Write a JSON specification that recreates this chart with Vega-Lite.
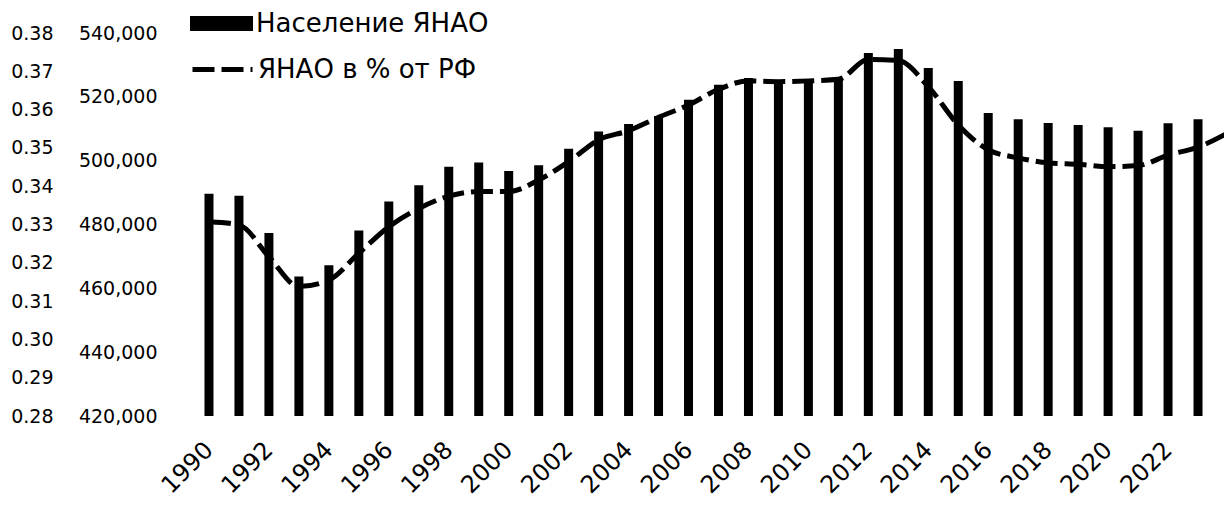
{
  "$schema": "https://vega.github.io/schema/vega-lite/v6.json",
  "autosize": {"type": "none"},
  "padding": {"left": 189, "top": 33, "right": 0, "bottom": 90},
  "width": 1035,
  "height": 383,
  "background": "white",
  "config": {
    "view": {"stroke": null},
    "font": "DejaVu Sans",
    "axis": {"grid": false, "domain": false, "ticks": false, "tickSize": 0, "labelColor": "#000", "labelFont": "DejaVu Sans", "title": null},
    "legend": {"labelFont": "DejaVu Sans", "labelColor": "#000", "labelFontSize": 26, "padding": 0, "offset": 0, "labelLimit": 400}
  },
  "data": {
    "values": [
      {"year": 1990, "pop": 489600, "pct": 0.3307},
      {"year": 1991, "pop": 489000, "pct": 0.3299},
      {"year": 1992, "pop": 477300, "pct": 0.3216},
      {"year": 1993, "pop": 463700, "pct": 0.3138},
      {"year": 1994, "pop": 467200, "pct": 0.3155},
      {"year": 1995, "pop": 478100, "pct": 0.3225},
      {"year": 1996, "pop": 487200, "pct": 0.3294},
      {"year": 1997, "pop": 492300, "pct": 0.3342},
      {"year": 1998, "pop": 498100, "pct": 0.3374},
      {"year": 1999, "pop": 499400, "pct": 0.3386},
      {"year": 2000, "pop": 496800, "pct": 0.3386},
      {"year": 2001, "pop": 498600, "pct": 0.3416},
      {"year": 2002, "pop": 503700, "pct": 0.3464},
      {"year": 2003, "pop": 509100, "pct": 0.3521},
      {"year": 2004, "pop": 511500, "pct": 0.3545},
      {"year": 2005, "pop": 514000, "pct": 0.3580},
      {"year": 2006, "pop": 519100, "pct": 0.3612},
      {"year": 2007, "pop": 523800, "pct": 0.3653},
      {"year": 2008, "pop": 525900, "pct": 0.3675},
      {"year": 2009, "pop": 525300, "pct": 0.3673},
      {"year": 2010, "pop": 524800, "pct": 0.3675},
      {"year": 2011, "pop": 525900, "pct": 0.3679},
      {"year": 2012, "pop": 533700, "pct": 0.3731},
      {"year": 2013, "pop": 535000, "pct": 0.3728},
      {"year": 2014, "pop": 529000, "pct": 0.3660},
      {"year": 2015, "pop": 525000, "pct": 0.3560},
      {"year": 2016, "pop": 514900, "pct": 0.3495},
      {"year": 2017, "pop": 513000, "pct": 0.3474},
      {"year": 2018, "pop": 511800, "pct": 0.3461},
      {"year": 2019, "pop": 511200, "pct": 0.3457},
      {"year": 2020, "pop": 510500, "pct": 0.3451},
      {"year": 2021, "pop": 509400, "pct": 0.3454},
      {"year": 2022, "pop": 511700, "pct": 0.3481},
      {"year": 2023, "pop": 513000, "pct": 0.3502},
      {"year": 2024, "pop": null, "pct": 0.3539}
    ]
  },
  "encoding": {
    "x": {
      "field": "year",
      "type": "quantitative",
      "scale": {"domain": [1989.5, 2023.7], "nice": false, "zero": false},
      "axis": {
        "values": [1990, 1992, 1994, 1996, 1998, 2000, 2002, 2004, 2006, 2008, 2010, 2012, 2014, 2016, 2018, 2020, 2022],
        "format": "d",
        "labelAngle": -45,
        "labelAlign": "right",
        "labelBaseline": "middle",
        "labelFontSize": 24,
        "labelPadding": 30,
        "labelOverlap": false
      }
    }
  },
  "layer": [
    {
      "transform": [{"filter": "isValid(datum.pop)"}],
      "mark": {"type": "bar", "width": 9, "clip": true},
      "encoding": {
        "y": {
          "field": "pop",
          "type": "quantitative",
          "scale": {"domain": [420000, 540000], "nice": false, "zero": false},
          "axis": {
            "orient": "left",
            "values": [420000, 440000, 460000, 480000, 500000, 520000, 540000],
            "format": ",d",
            "labelFontSize": 19,
            "labelPadding": 32
          }
        },
        "y2": {"datum": 420000},
        "color": {
          "datum": "Население ЯНАО",
          "scale": {"range": ["#000000"]},
          "legend": {
            "title": null,
            "orient": "none",
            "legendX": 1,
            "legendY": -41,
            "symbolType": "M-1,-0.24H1V0.24H-1Z",
            "symbolSize": 3969,
            "symbolStrokeWidth": 0,
            "labelOffset": 3
          }
        }
      }
    },
    {
      "mark": {"type": "line", "color": "#000000", "strokeWidth": 5, "interpolate": "monotone", "clip": true},
      "encoding": {
        "y": {
          "field": "pct",
          "type": "quantitative",
          "scale": {"domain": [0.28, 0.38], "nice": false, "zero": false},
          "axis": {
            "orient": "left",
            "values": [0.28, 0.29, 0.30, 0.31, 0.32, 0.33, 0.34, 0.35, 0.36, 0.37, 0.38],
            "format": ".2f",
            "labelFontSize": 19,
            "labelPadding": 136
          }
        },
        "strokeDash": {
          "datum": "ЯНАО в % от РФ",
          "scale": {"range": [[22, 7]]},
          "legend": {
            "title": null,
            "orient": "none",
            "legendX": 1,
            "legendY": 4,
            "symbolType": "stroke",
            "symbolSize": 3600,
            "symbolStrokeColor": "#000000",
            "symbolStrokeWidth": 5,
            "symbolDash": [18, 5],
            "labelOffset": 3
          }
        }
      }
    }
  ],
  "resolve": {"scale": {"y": "independent"}}
}
